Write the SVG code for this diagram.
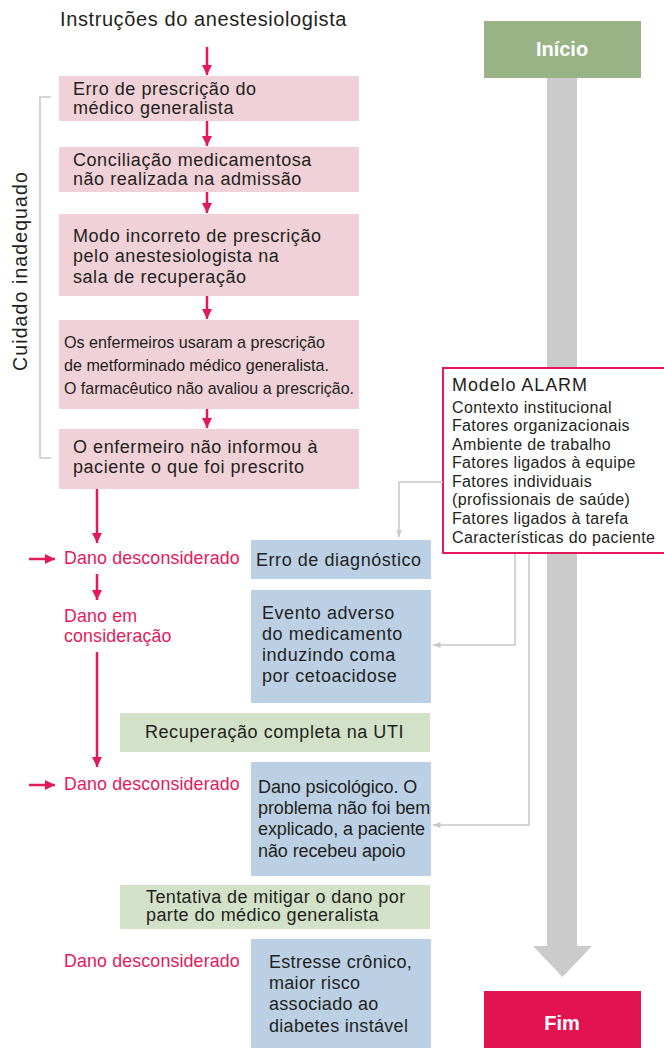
<svg xmlns="http://www.w3.org/2000/svg" width="664" height="1048" viewBox="0 0 664 1048">
<style>
text{font-family:"Liberation Sans",Arial,sans-serif;fill:#231f20}
.t{font-size:18px;letter-spacing:0.55px}
.n{font-size:17px}
.r{font-size:17.8px;fill:#e5195a;letter-spacing:0.15px}
.w{font-size:20px;fill:#fff;font-weight:bold;text-anchor:middle}
.a{font-size:16px;letter-spacing:0.35px}
.pink{fill:#efd1d7}
.blue{fill:#bcd0e5}
.green{fill:#d2e1c8}
.ra{stroke:#e5195a;stroke-width:2.5;fill:none}
.ga{stroke:#c8c8c8;stroke-width:1.5;fill:none}
</style>
<defs>
<marker id="mr" viewBox="0 0 10 10" refX="10" refY="5" markerWidth="4" markerHeight="4" orient="auto" markerUnits="strokeWidth"><path d="M0,0 L10,5 L0,10 z" fill="#e5195a"/></marker>
<marker id="mg" viewBox="0 0 10 10" refX="10" refY="5" markerWidth="5" markerHeight="5" orient="auto" markerUnits="strokeWidth"><path d="M0,1 L10,5 L0,9 z" fill="#c8c8c8"/></marker>
</defs>

<g id="flow-bar">
<rect x="547" y="78" width="30" height="870" fill="#cbcbcb"/>
<path d="M533,946 L592,946 L562.5,977 z" fill="#cbcbcb"/>
</g>

<g id="inicio"><rect x="484" y="21" width="157" height="57" fill="#9ab386"/><text class="w" x="562" y="56">Início</text></g>
<g id="fim"><rect x="484" y="991" width="157" height="57" fill="#e31352"/><text class="w" x="562" y="1030">Fim</text></g>

<g id="titulo"><text x="60" y="26" style="font-size:20px;letter-spacing:0.6px">Instruções do anestesiologista</text></g>

<g id="cuidado">
<path d="M51,97 H40 V458 H51" stroke="#c8c8c8" stroke-width="1.5" fill="none"/>
<text transform="translate(27,271) rotate(-90)" text-anchor="middle" style="font-size:19.5px;letter-spacing:1.1px">Cuidado inadequado</text>
</g>

<g id="b1"><rect class="pink" x="59" y="76" width="300" height="45"/><text class="t" x="73" y="95">Erro de prescrição do<tspan x="73" y="114">médico generalista</tspan></text></g>
<g id="b2"><rect class="pink" x="59" y="147" width="300" height="45"/><text class="t" x="73" y="166">Conciliação medicamentosa<tspan x="73" y="185">não realizada na admissão</tspan></text></g>
<g id="b3"><rect class="pink" x="59" y="214" width="300" height="82"/><text class="t" x="73" y="242">Modo incorreto de prescrição<tspan x="73" y="262">pelo anestesiologista na</tspan><tspan x="73" y="283">sala de recuperação</tspan></text></g>
<g id="b4"><rect class="pink" x="59" y="320" width="300" height="89"/>
<text class="n" x="64" y="348" textLength="261" lengthAdjust="spacingAndGlyphs">Os enfermeiros usaram a prescrição</text>
<text class="n" x="64" y="371" textLength="265" lengthAdjust="spacingAndGlyphs">de metforminado médico generalista.</text>
<text class="n" x="64" y="394" textLength="290" lengthAdjust="spacingAndGlyphs">O farmacêutico não avaliou a prescrição.</text></g>
<g id="b5"><rect class="pink" x="59" y="429" width="300" height="60"/><text class="t" x="73" y="453">O enfermeiro não informou à<tspan x="73" y="473">paciente o que foi prescrito</tspan></text></g>

<g id="dano1"><text class="r" x="64" y="564">Dano desconsiderado</text></g>
<g id="dano2"><text class="r" x="64" y="622">Dano em<tspan x="64" y="642">consideração</tspan></text></g>
<g id="dano3"><text class="r" x="64" y="790">Dano desconsiderado</text></g>
<g id="dano4"><text class="r" x="64" y="967">Dano desconsiderado</text></g>

<g id="e1"><rect class="blue" x="251" y="540" width="180" height="39"/><text class="t" x="256" y="566">Erro de diagnóstico</text></g>
<g id="e2"><rect class="blue" x="251" y="590" width="180" height="113"/><text class="t" x="262" y="619">Evento adverso<tspan x="262" y="640">do medicamento</tspan><tspan x="262" y="661">induzindo coma</tspan><tspan x="262" y="682">por cetoacidose</tspan></text></g>
<g id="g1"><rect class="green" x="120" y="713" width="310" height="39"/><text class="t" x="145" y="738">Recuperação completa na UTI</text></g>
<g id="e3"><rect class="blue" x="251" y="762" width="180" height="114"/><text class="t" x="258" y="793" style="letter-spacing:-0.1px">Dano psicológico. O<tspan x="258" y="814">problema não foi bem</tspan><tspan x="258" y="835">explicado, a paciente</tspan><tspan x="258" y="857">não recebeu apoio</tspan></text></g>
<g id="g2"><rect class="green" x="120" y="885" width="310" height="44"/><text class="t" x="146" y="903" style="letter-spacing:0.4px">Tentativa de mitigar o dano por<tspan x="146" y="921">parte do médico generalista</tspan></text></g>
<g id="e4"><rect class="blue" x="251" y="939" width="180" height="109"/><text class="t" x="269" y="968" style="letter-spacing:0.3px">Estresse crônico,<tspan x="269" y="989">maior risco</tspan><tspan x="269" y="1010">associado ao</tspan><tspan x="269" y="1032">diabetes instável</tspan></text></g>

<g id="alarm">
<rect x="443" y="368" width="226" height="185" fill="#fff" stroke="#e5195a" stroke-width="2"/>
<text x="452" y="391" style="font-size:18px;letter-spacing:0.9px">Modelo ALARM</text>
<text class="a" x="452" y="413">Contexto institucional<tspan x="452" y="431">Fatores organizacionais</tspan><tspan x="452" y="450">Ambiente de trabalho</tspan><tspan x="452" y="468">Fatores ligados à equipe</tspan><tspan x="452" y="487">Fatores individuais</tspan><tspan x="452" y="505">(profissionais de saúde)</tspan><tspan x="452" y="524">Fatores ligados à tarefa</tspan><tspan x="452" y="543">Características do paciente</tspan></text>
</g>

<g id="connectors">
<line class="ra" x1="207" y1="47" x2="207" y2="75" marker-end="url(#mr)"/>
<line class="ra" x1="207" y1="121" x2="207" y2="146" marker-end="url(#mr)"/>
<line class="ra" x1="207" y1="192" x2="207" y2="213" marker-end="url(#mr)"/>
<line class="ra" x1="207" y1="296" x2="207" y2="319" marker-end="url(#mr)"/>
<line class="ra" x1="207" y1="409" x2="207" y2="428" marker-end="url(#mr)"/>
<line class="ra" x1="97" y1="489" x2="97" y2="543" marker-end="url(#mr)"/>
<line class="ra" x1="97" y1="574" x2="97" y2="600" marker-end="url(#mr)"/>
<line class="ra" x1="97" y1="652" x2="97" y2="767" marker-end="url(#mr)"/>
<line class="ra" x1="29" y1="559" x2="55" y2="559" marker-end="url(#mr)"/>
<line class="ra" x1="29" y1="785" x2="55" y2="785" marker-end="url(#mr)"/>
<polyline class="ga" points="443,482 399,482 399,537" marker-end="url(#mg)"/>
<polyline class="ga" points="515,554 515,645 433,645" marker-end="url(#mg)"/>
<polyline class="ga" points="529,554 529,825 433,825" marker-end="url(#mg)"/>
</g>
</svg>
